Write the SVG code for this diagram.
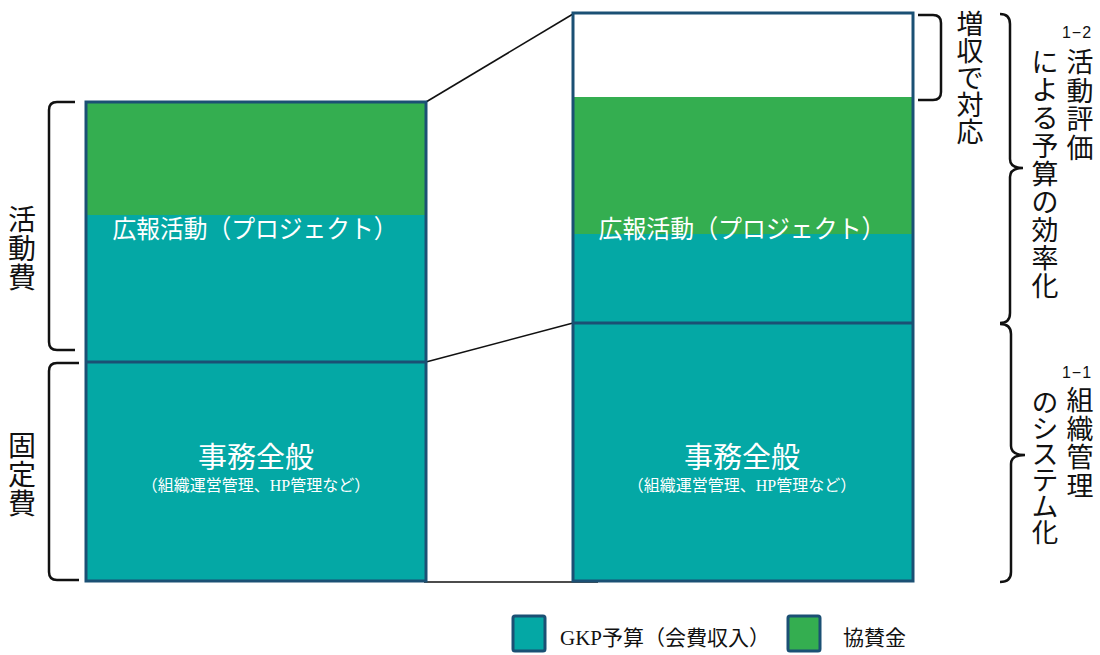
<svg xmlns="http://www.w3.org/2000/svg" width="1100" height="655" viewBox="0 0 1100 655">
<style>
.teal{fill:#04A8A5}
.green{fill:#34AE50}
.frame{fill:none;stroke:#1B5074;stroke-width:3}
.div{stroke:#1B5074;stroke-width:3}
.con{stroke:#111;stroke-width:1.6;fill:none}
.br{stroke:#111;stroke-width:2.5;fill:none}
.wt{fill:#fff;font-family:"Noto Sans CJK JP",sans-serif;text-anchor:middle}
.ws{fill:#fff;font-family:"Liberation Serif","Noto Sans CJK JP",serif;text-anchor:middle;font-size:16px}
.lb{fill:#111;font-family:"Noto Sans CJK JP",sans-serif;text-anchor:middle}
.lg{fill:#111;font-family:"Liberation Serif","Noto Sans CJK JP",serif;font-size:21px}
.sm{fill:#111;font-family:"Liberation Sans","Noto Sans CJK JP",sans-serif;font-size:16px;text-anchor:middle}
</style>
<rect width="1100" height="655" fill="#fff"/>
<g id="connectors">
<line class="con" x1="426" y1="102" x2="573" y2="14"/>
<line class="con" x1="426" y1="362" x2="573" y2="323"/>
<line class="con" x1="424" y1="582" x2="598" y2="582"/>
</g>
<g id="left-activity">
<rect class="green" x="86" y="102" width="340" height="113"/>
<rect class="teal" x="86" y="215" width="340" height="147"/>
<text class="wt" x="255" y="238" font-size="25.5" textLength="285" lengthAdjust="spacingAndGlyphs">広報活動（プロジェクト）</text>
</g>
<g id="left-fixed">
<rect class="teal" x="86" y="362" width="340" height="219"/>
<text class="wt" x="256" y="468" font-size="29">事務全般</text>
<text class="ws" x="256" y="491">（組織運営管理、HP管理など）</text>
</g>
<g id="left-frame">
<rect class="frame" x="86" y="102" width="340" height="479"/>
<line class="div" x1="86" y1="362" x2="426" y2="362"/>
</g>
<g id="right-increase">
<rect x="573" y="13" width="340" height="84" fill="#fff"/>
</g>
<g id="right-activity">
<rect class="green" x="573" y="97" width="340" height="137"/>
<rect class="teal" x="573" y="234" width="340" height="89"/>
<text class="wt" x="742" y="238" font-size="25.5" textLength="287" lengthAdjust="spacingAndGlyphs">広報活動（プロジェクト）</text>
</g>
<g id="right-fixed">
<rect class="teal" x="573" y="323" width="340" height="258"/>
<text class="wt" x="742" y="468" font-size="29">事務全般</text>
<text class="ws" x="742" y="491">（組織運営管理、HP管理など）</text>
</g>
<g id="right-frame">
<rect class="frame" x="573" y="13" width="340" height="568"/>
<line class="div" x1="573" y1="323" x2="913" y2="323"/>
</g>
<g id="label-activity-cost">
<path class="br" d="M75,102 H57 Q49,102 49,110 V342 Q49,350 57,350 H75"/>
<text class="lb" font-size="28"><tspan x="22" y="230">活</tspan><tspan x="22" y="259">動</tspan><tspan x="22" y="288">費</tspan></text>
</g>
<g id="label-fixed-cost">
<path class="br" d="M79,363 H57 Q49,363 49,371 V572 Q49,580 57,580 H79"/>
<text class="lb" font-size="28"><tspan x="22" y="456">固</tspan><tspan x="22" y="485">定</tspan><tspan x="22" y="514">費</tspan></text>
</g>
<g id="label-increase">
<path class="br" d="M918,15 H933 Q941,15 941,23 V92 Q941,100 933,100 H918"/>
<text class="lb" font-size="27"><tspan x="970" y="34">増</tspan><tspan x="970" y="61">収</tspan><tspan x="970" y="88">で</tspan><tspan x="970" y="115">対</tspan><tspan x="970" y="142">応</tspan></text>
</g>
<g id="label-1-2">
<path class="br" d="M1000,14 Q1010,14 1010,24 V159 Q1010,168 1023,168 Q1010,168 1010,177 V313 Q1010,323 1000,323"/>
<text class="sm" x="1077" y="38" letter-spacing="1">1−2</text>
<text class="lb" font-size="27"><tspan x="1080" y="72">活</tspan><tspan x="1080" y="100.5">動</tspan><tspan x="1080" y="129">評</tspan><tspan x="1080" y="157.5">価</tspan></text>
<text class="lb" font-size="27"><tspan x="1045" y="72">に</tspan><tspan x="1045" y="100">よ</tspan><tspan x="1045" y="128">る</tspan><tspan x="1045" y="156">予</tspan><tspan x="1045" y="184">算</tspan><tspan x="1045" y="212">の</tspan><tspan x="1045" y="240">効</tspan><tspan x="1045" y="268">率</tspan><tspan x="1045" y="296">化</tspan></text>
</g>
<g id="label-1-1">
<path class="br" d="M1000,324 Q1011,324 1011,334 V446 Q1011,455 1025,455 Q1011,455 1011,464 V572 Q1011,582 1000,582"/>
<text class="sm" x="1077" y="378" letter-spacing="1">1−1</text>
<text class="lb" font-size="27"><tspan x="1080" y="410">組</tspan><tspan x="1080" y="438.5">織</tspan><tspan x="1080" y="467">管</tspan><tspan x="1080" y="495.5">理</tspan></text>
<text class="lb" font-size="26.5"><tspan x="1045" y="412">の</tspan><tspan x="1045" y="438">シ</tspan><tspan x="1045" y="464">ス</tspan><tspan x="1045" y="490">テ</tspan><tspan x="1045" y="516">ム</tspan><tspan x="1045" y="542">化</tspan></text>
</g>
<g id="legend-gkp">
<rect class="teal" x="513" y="616" width="32" height="35" stroke="#1B5074" stroke-width="3" rx="2"/>
<text class="lg" x="560" y="645">GKP予算（会費収入）</text>
</g>
<g id="legend-sponsor">
<rect class="green" x="788" y="616" width="32" height="35" stroke="#1B5074" stroke-width="3" rx="2"/>
<text class="lg" x="843" y="645">協賛金</text>
</g>
</svg>
